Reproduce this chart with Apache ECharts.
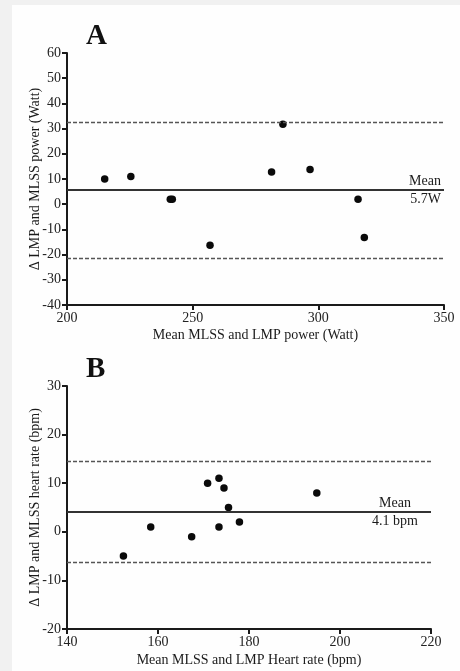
<!DOCTYPE html>
<html>
<head>
<meta charset="utf-8">
<script src="https://cdn.jsdelivr.net/npm/echarts@6/dist/echarts.min.js"></script>
<style>
html,body{margin:0;padding:0;background:#f1f1f1;}
#paper{position:absolute;left:12px;top:5px;right:0;bottom:0;background:#fefefe;}
#chart{position:absolute;left:0;top:0;width:460px;height:671px;}
</style>
</head>
<body>
<div id="paper"></div>
<div id="chart"></div>
<script>
// Panel A: power (Watt)
const powerMean = [215, 225.4, 241.1, 241.9, 256.9, 281.4, 285.9, 296.7, 315.8, 318.3];
const powerDiff = [10, 11, 2, 2, -16.3, 12.8, 31.7, 13.8, 2, -13.2];
const powerBias = 5.7;
const powerLoA = [32.7, -21.4];
const powerXTicks = [200, 350, 50];
const powerYTicks = [-40, 60, 10];

// Panel B: heart rate (bpm)
const hrMean = [152.4, 158.4, 167.4, 170.9, 173.4, 173.4, 174.5, 175.5, 177.9, 194.9];
const hrDiff = [-5, 1, -1, 10, 11, 1, 9, 5, 2, 8];
const hrBias = 4.1;
const hrLoA = [14.5, -6.3];
const hrXTicks = [140, 220, 20];
const hrYTicks = [-20, 30, 10];

const FONT = 'Liberation Serif';
const INK = '#1a1a1a';

function xAxis(idx, ticks, name, gap) {
  return {
    type: 'value', gridIndex: idx, min: ticks[0], max: ticks[1], interval: ticks[2],
    name: name, nameLocation: 'middle', nameGap: gap, nameMoveOverlap: false,
    nameTextStyle: {fontFamily: FONT, fontSize: 14, color: INK},
    axisLine: {show: true, onZero: false, lineStyle: {color: INK, width: 2}},
    axisTick: {show: true, length: 5, lineStyle: {color: INK, width: 2}},
    axisLabel: {fontFamily: FONT, fontSize: 14, color: '#222', margin: 6},
    splitLine: {show: false}
  };
}
function yAxis(idx, ticks, name) {
  return {
    type: 'value', gridIndex: idx, min: ticks[0], max: ticks[1], interval: ticks[2],
    name: name, nameLocation: 'middle', nameGap: 25, nameRotate: 90, nameMoveOverlap: false,
    nameTextStyle: {fontFamily: FONT, fontSize: 14, color: INK},
    axisLine: {show: true, onZero: false, lineStyle: {color: INK, width: 2}},
    axisTick: {show: true, length: 5, lineStyle: {color: INK, width: 2}},
    axisLabel: {fontFamily: FONT, fontSize: 14, color: '#222', margin: 6},
    splitLine: {show: false}
  };
}
function series(idx, xs, ys, bias, loa, biasLabel, meanDist, valDist) {
  const labelStyle = {fontFamily: FONT, fontSize: 14, color: INK};
  return {
    type: 'scatter', xAxisIndex: idx, yAxisIndex: idx,
    data: xs.map((x, i) => [x, ys[i]]),
    symbol: 'circle', symbolSize: 7.5,
    itemStyle: {color: '#0a0a0a', opacity: 1},
    markLine: {
      silent: true, symbol: 'none', animation: false,
      data: [
        {yAxis: loa[0], lineStyle: {type: [4, 2], color: '#555', width: 1.3}, label: {show: false}},
        {yAxis: loa[1], lineStyle: {type: [4, 2], color: '#555', width: 1.3}, label: {show: false}},
        {yAxis: bias, lineStyle: {type: 'solid', color: '#333', width: 2},
          label: Object.assign({show: true, position: 'insideEndTop', formatter: 'Mean', distance: meanDist}, labelStyle)},
        {yAxis: bias, lineStyle: {type: 'solid', color: 'rgba(0,0,0,0)', width: 0.1},
          label: Object.assign({show: true, position: 'insideEndBottom', formatter: biasLabel, distance: valDist}, labelStyle)}
      ]
    }
  };
}

const chart = echarts.init(document.getElementById('chart'), null, {renderer: 'canvas'});
chart.setOption({
  backgroundColor: 'transparent',
  animation: false,
  title: [
    {text: 'A', left: 81, top: 17, textStyle: {fontFamily: FONT, fontSize: 29, fontWeight: 'bold', color: '#111'}},
    {text: 'B', left: 81, top: 350, textStyle: {fontFamily: FONT, fontSize: 29, fontWeight: 'bold', color: '#111'}}
  ],
  grid: [
    {left: 67, top: 53, width: 377, height: 252},
    {left: 67, top: 386, width: 364, height: 243}
  ],
  xAxis: [
    xAxis(0, powerXTicks, 'Mean MLSS and LMP power (Watt)', 23),
    xAxis(1, hrXTicks, 'Mean MLSS and LMP Heart rate (bpm)', 24)
  ],
  yAxis: [
    yAxis(0, powerYTicks, 'Δ LMP and MLSS power (Watt)'),
    yAxis(1, hrYTicks, 'Δ LMP and MLSS heart rate (bpm)')
  ],
  series: [
    series(0, powerMean, powerDiff, powerBias, powerLoA, '5.7W', [3, 2], [3, 2]),
    series(1, hrMean, hrDiff, hrBias, hrLoA, '4.1 bpm', [20, 2], [13, 2])
  ]
});
</script>
</body>
</html>
